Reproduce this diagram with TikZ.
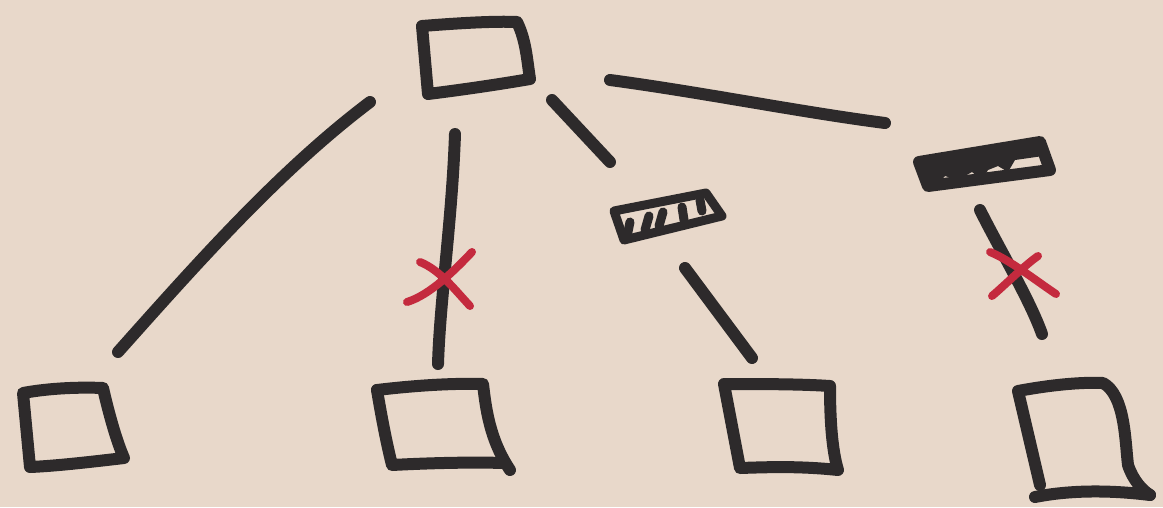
\documentclass[tikz,border=0pt]{standalone}
\begin{document}
\begin{tikzpicture}[x=1pt,y=-1pt,
  ink/.style={draw=inkc,line width=12pt,line cap=round,line join=round},
  thin ink/.style={draw=inkc,line width=9pt,line cap=round,line join=round},
  redink/.style={draw=redc,line width=8pt,line cap=round}]
\definecolor{paper}{HTML}{E8D8CA}
\definecolor{inkc}{HTML}{2D2A2B}
\definecolor{redc}{HTML}{C42A3E}
\fill[paper] (0,0) rectangle (1163,507);
\useasboundingbox (0,0) rectangle (1163,507);

% top box
\draw[ink] (422,26) .. controls (460,23) and (495,21) .. (517,22)
  .. controls (526,40) and (527,60) .. (530,79)
  .. controls (495,85) and (460,90) .. (428,94) -- cycle;

% bottom boxes
\draw[ink] (23,393) .. controls (50,388) and (80,387) .. (103,388)
  .. controls (108,410) and (116,440) .. (124,458)
  .. controls (90,462) and (55,466) .. (30,467) -- cycle;
\draw[ink] (377,390) .. controls (410,386) and (450,383) .. (483,384)
  .. controls (486,410) and (490,440) .. (510,470);
\draw[ink] (377,390) .. controls (382,420) and (387,445) .. (392,465)
  .. controls (430,463) and (470,462) .. (505,463);
\draw[ink] (724,384) .. controls (760,384) and (800,384) .. (830,386)
  .. controls (830,420) and (832,450) .. (838,470)
  .. controls (800,466) and (770,467) .. (740,468) -- cycle;
\draw[ink] (1040,485) -- (1018,391) .. controls (1050,385) and (1080,382) .. (1103,383)
  .. controls (1125,395) and (1125,440) .. (1128,465) .. controls (1133,480) and (1142,490) .. (1150,495);
\draw[ink] (1035,497) .. controls (1070,490) and (1110,490) .. (1150,495);

% hatched boxes
\draw[thin ink] (614,211) -- (706,193) -- (722,216) -- (624,240) -- cycle;
\draw[thin ink] (630,222) -- (628,232);
\draw[thin ink] (649,216) -- (645,230);
\draw[thin ink] (663,212) -- (659,226);
\draw[thin ink] (682,207) -- (684,220);
\draw[thin ink] (700,200) -- (702,211);
\draw[ink] (919,162) -- (1040,142) -- (1050,170) -- (928,186) -- cycle;
\fill[inkc] (922,160) -- (1040,142) -- (1043,156) -- (1015,160) -- (1008,172) -- (998,166) -- (988,170) -- (982,180) -- (972,172) -- (958,180) -- (945,176) -- (938,184) -- (925,182) -- cycle;

% connectors
\coordinate (a1) at (370,102); \coordinate (a2) at (118,352);
\coordinate (b1) at (455,134); \coordinate (b2) at (438,364);
\coordinate (c1) at (552,100); \coordinate (c2) at (610,162);
\coordinate (d1) at (610,80);  \coordinate (d2) at (885,123);
\coordinate (e1) at (685,268); \coordinate (e2) at (752,358);
\coordinate (f1) at (980,210); \coordinate (f2) at (1042,334);
\draw[ink] (a1) .. controls (280,170) and (200,260) .. (a2);
\draw[ink] (b1) .. controls (452,220) and (440,300) .. (b2);
\draw[ink] (c1) -- (c2);
\draw[ink] (d1) .. controls (700,92) and (800,112) .. (d2);
\draw[ink] (e1) -- (e2);
\draw[ink] (f1) .. controls (1000,250) and (1030,300) .. (f2);

% red crosses
\draw[redink] (420,262) .. controls (440,270) and (455,290) .. (470,306);
\draw[redink] (407,302) .. controls (430,295) and (455,270) .. (472,252);
\draw[redink] (990,252) .. controls (1010,260) and (1035,280) .. (1056,294);
\draw[redink] (992,296) .. controls (1005,285) and (1025,265) .. (1038,256);
\end{tikzpicture}
\end{document}
